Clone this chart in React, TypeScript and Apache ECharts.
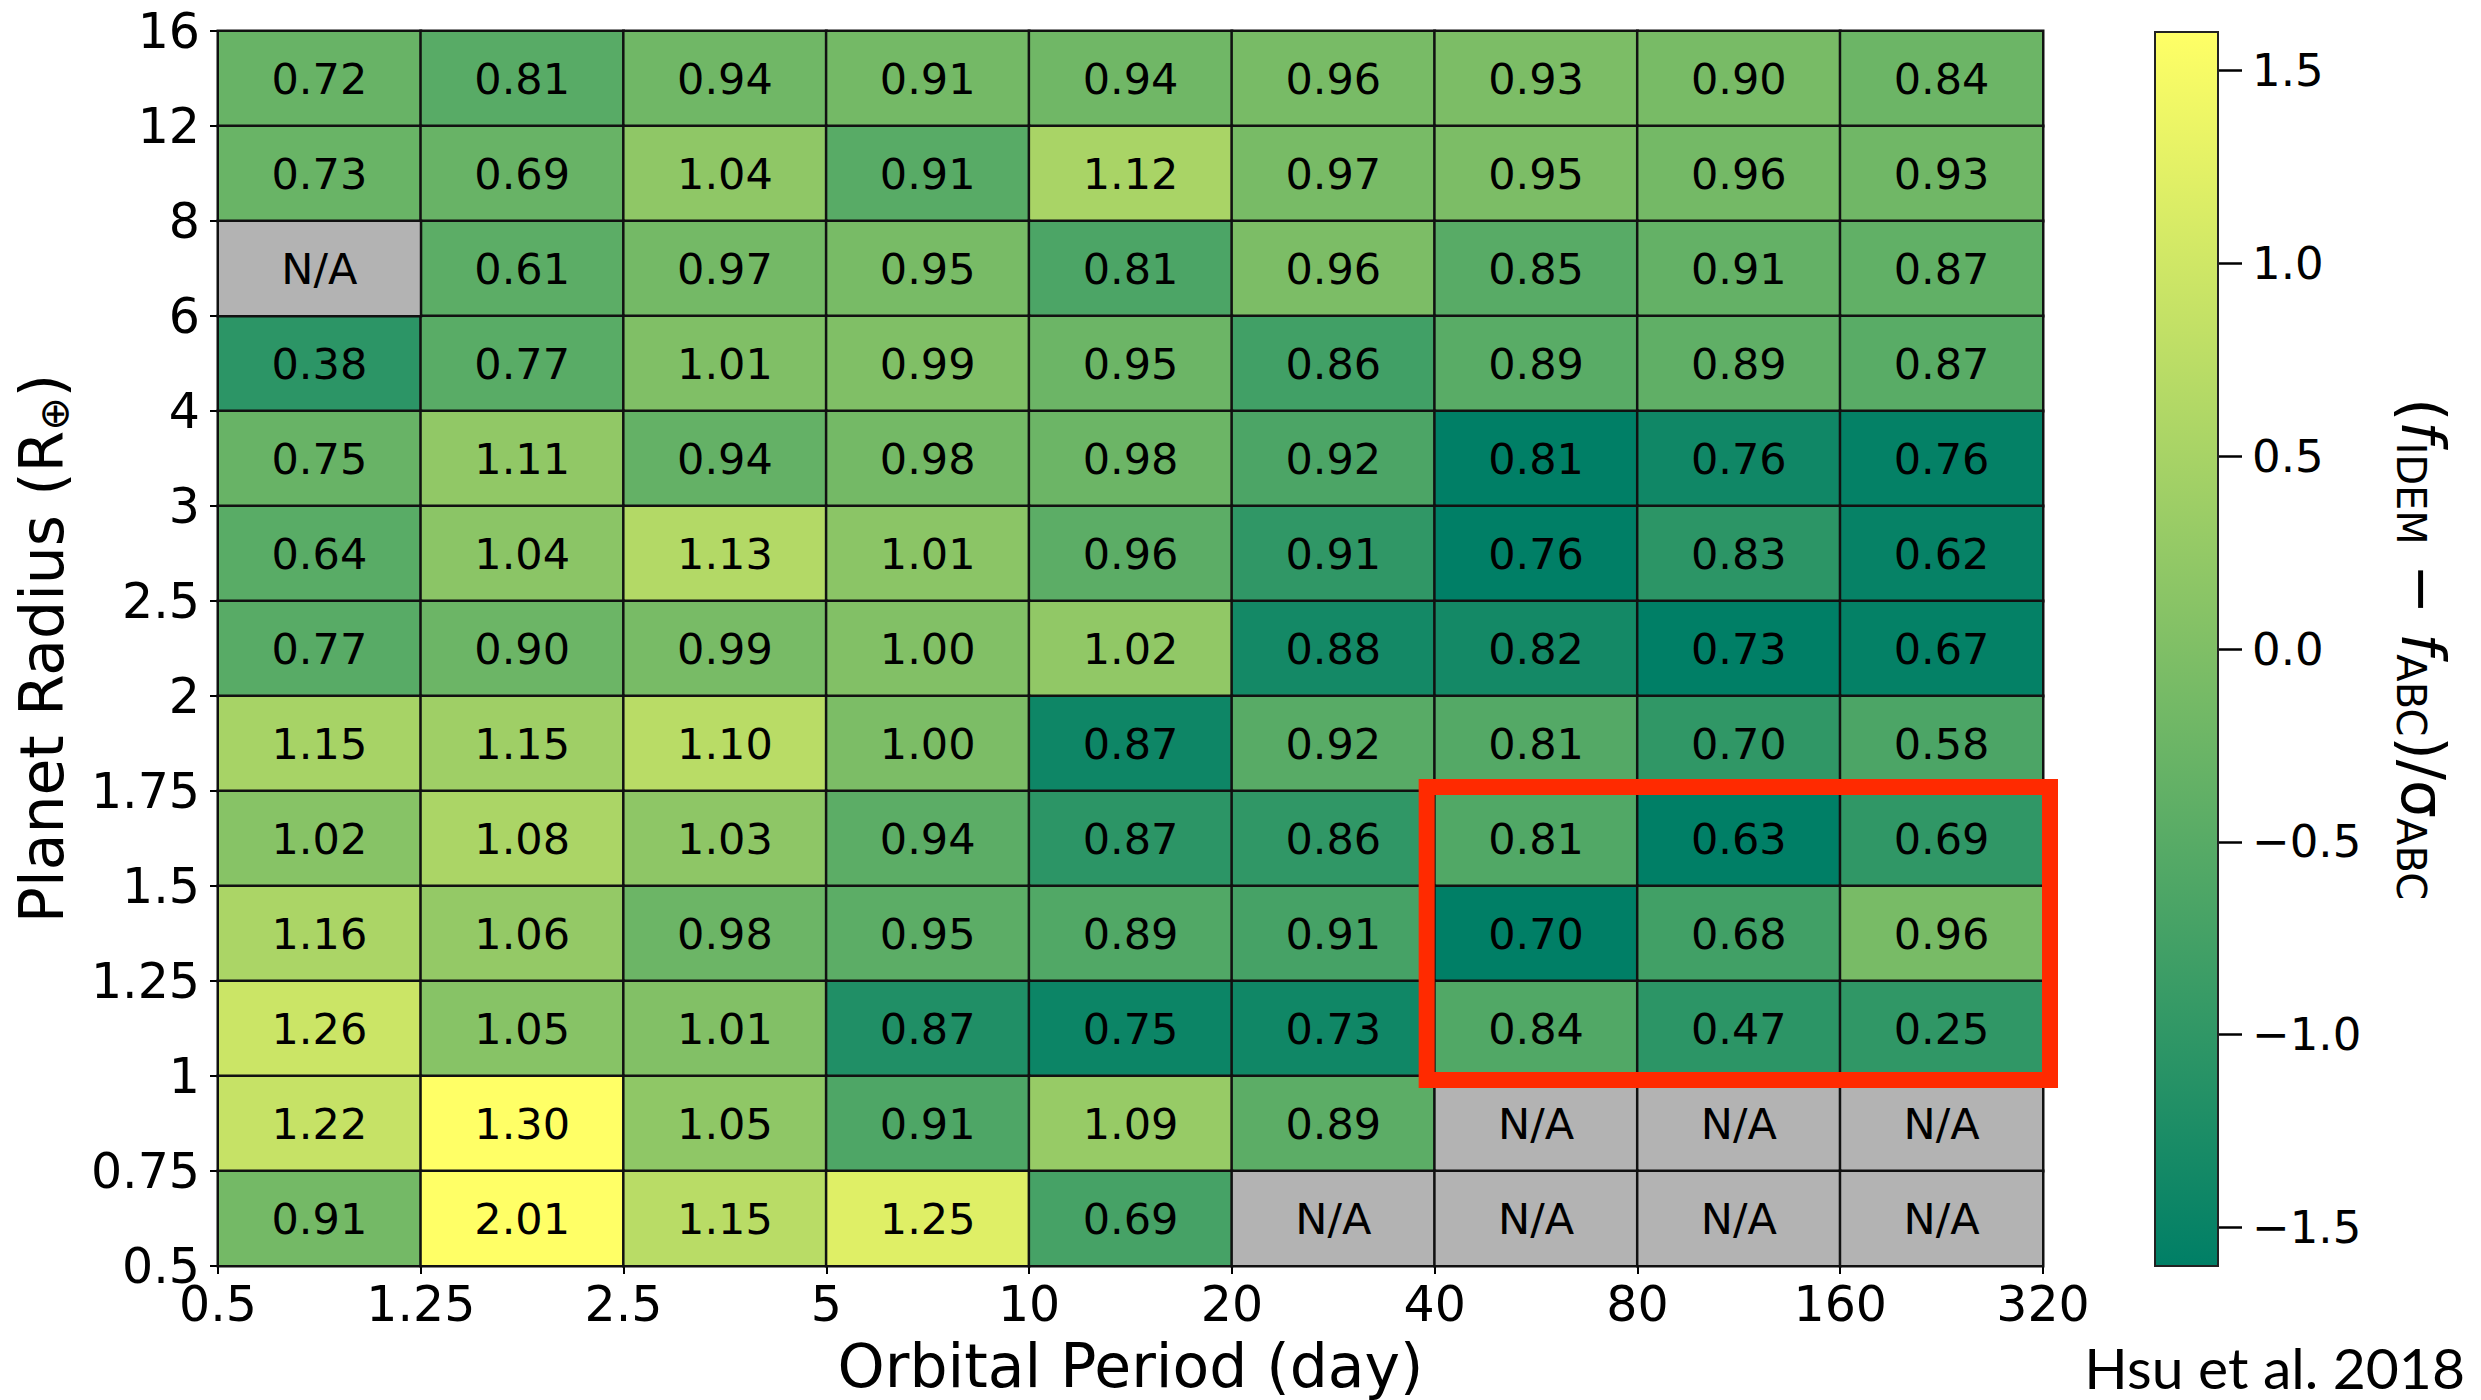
import { useEffect, useRef } from 'react';
import * as echarts from 'echarts';

// Bin edges (tick labels)
const periodTicks = ['0.5', '1.25', '2.5', '5', '10', '20', '40', '80', '160', '320'];
const radiusTicks = ['0.5', '0.75', '1', '1.25', '1.5', '1.75', '2', '2.5', '3', '4', '6', '8', '12', '16']; // bottom -> top

// Displayed ratio in each cell, rows listed top (16-12 R_earth) to bottom (0.75-0.5); null = N/A
const ratioRows: (number | null)[][] = [
  [0.72, 0.81, 0.94, 0.91, 0.94, 0.96, 0.93, 0.90, 0.84],
  [0.73, 0.69, 1.04, 0.91, 1.12, 0.97, 0.95, 0.96, 0.93],
  [null, 0.61, 0.97, 0.95, 0.81, 0.96, 0.85, 0.91, 0.87],
  [0.38, 0.77, 1.01, 0.99, 0.95, 0.86, 0.89, 0.89, 0.87],
  [0.75, 1.11, 0.94, 0.98, 0.98, 0.92, 0.81, 0.76, 0.76],
  [0.64, 1.04, 1.13, 1.01, 0.96, 0.91, 0.76, 0.83, 0.62],
  [0.77, 0.90, 0.99, 1.00, 1.02, 0.88, 0.82, 0.73, 0.67],
  [1.15, 1.15, 1.10, 1.00, 0.87, 0.92, 0.81, 0.70, 0.58],
  [1.02, 1.08, 1.03, 0.94, 0.87, 0.86, 0.81, 0.63, 0.69],
  [1.16, 1.06, 0.98, 0.95, 0.89, 0.91, 0.70, 0.68, 0.96],
  [1.26, 1.05, 1.01, 0.87, 0.75, 0.73, 0.84, 0.47, 0.25],
  [1.22, 1.30, 1.05, 0.91, 1.09, 0.89, null, null, null],
  [0.91, 2.01, 1.15, 1.25, 0.69, null, null, null, null],
];

// Colour-mapped quantity (f_IDEM - f_ABC)/sigma_ABC
const sigmaRows: (number | null)[][] = [
  [-0.30, -0.50, -0.20, -0.15, -0.20, -0.10, -0.05, -0.10, -0.25],
  [-0.28, -0.30, 0.20, -0.50, 0.52, -0.10, -0.05, -0.15, -0.20],
  [null, -0.45, -0.15, -0.10, -0.65, -0.05, -0.50, -0.35, -0.38],
  [-1.05, -0.48, 0.00, 0.00, -0.25, -0.78, -0.48, -0.40, -0.48],
  [-0.30, 0.22, -0.35, -0.15, -0.25, -0.65, -1.60, -1.40, -1.55],
  [-0.48, 0.15, 0.64, 0.15, -0.45, -1.00, -1.60, -1.05, -1.52],
  [-0.50, -0.25, -0.10, 0.03, 0.22, -1.35, -1.35, -1.60, -1.55],
  [0.50, 0.40, 0.72, -0.05, -1.42, -0.50, -0.55, -1.00, -0.65],
  [0.10, 0.55, 0.18, -0.45, -1.05, -1.00, -0.58, -1.60, -1.00],
  [0.55, 0.26, -0.25, -0.45, -0.58, -0.72, -1.60, -0.78, -0.10],
  [0.95, 0.10, 0.03, -1.20, -1.45, -1.40, -0.58, -1.05, -1.00],
  [0.88, 1.60, 0.20, -0.62, 0.30, -0.45, null, null, null],
  [-0.15, 1.60, 0.72, 1.20, -0.72, null, null, null, null],
];

const colorbarTicks = [-1.5, -1.0, -0.5, 0.0, 0.5, 1.0, 1.5];
const colorRange = [-1.6, 1.6];
// highlighted block in bin units: [x0, y0, x1, y1] (40-320 day, 1-1.75 R_earth)
const highlightBox = [[6, 2, 9, 5]];

const FONT = 'DejaVu Sans';

export default function App() {
  const ref = useRef<HTMLDivElement>(null);

  useEffect(() => {
    document.body.style.margin = '0';
    const chart = echarts.init(ref.current!, null, { renderer: 'svg' });
    const nRows = ratioRows.length;
    const cells: any[] = [];
    const cellText: string[] = [];
    const naCells: any[] = [];
    ratioRows.forEach((row, r) => {
      const yi = nRows - 1 - r;
      row.forEach((v, c) => {
        if (v === null) {
          naCells.push([c, yi, 0]);
        } else {
          cells.push([c, yi, sigmaRows[r][c]]);
          cellText.push(v.toFixed(2));
        }
      });
    });

    const xCats = periodTicks.slice(0, -1).map((t, i) => t + '-' + periodTicks[i + 1]);
    const yCats = radiusTicks.slice(0, -1).map((t, i) => t + '-' + radiusTicks[i + 1]);

    const tickStyle = { color: '#000', width: 2 };
    const subRich = {
      m: { fontSize: 60, lineHeight: 64, fontFamily: FONT, color: '#000' },
      i: { fontSize: 60, lineHeight: 64, fontFamily: FONT, fontStyle: 'italic', color: '#000' },
      s: { fontSize: 40, lineHeight: 28, fontFamily: FONT, verticalAlign: 'bottom', color: '#000' },
    };

    const option: any = {
      animation: false,
      backgroundColor: '#ffffff',
      textStyle: { fontFamily: FONT },
      grid: [
        { left: 218, top: 31, width: 1825, height: 1235, outerBoundsMode: 'none' },
        { left: 2155, top: 32, width: 63, height: 1234, outerBoundsMode: 'none' },
      ],
      xAxis: [
        { type: 'category', gridIndex: 0, data: xCats, show: false },
        {
          type: 'value', gridIndex: 0, position: 'bottom', min: 0, max: periodTicks.length - 1, interval: 1,
          axisLine: { show: true, onZero: false, lineStyle: { color: '#000', width: 2 } },
          axisTick: { show: true, length: 8, lineStyle: tickStyle },
          axisLabel: {
            formatter: (v: number) => periodTicks[Math.round(v)],
            fontSize: 49, color: '#000', margin: 14, fontFamily: FONT,
          },
          splitLine: { show: false },
          name: 'Orbital Period (day)', nameLocation: 'middle', nameGap: 70,
          nameTextStyle: { fontSize: 60, lineHeight: 60, color: '#000', fontFamily: FONT },
        },
        { type: 'value', gridIndex: 1, min: 0, max: 1, show: false },
      ],
      yAxis: [
        { type: 'category', gridIndex: 0, data: yCats, show: false, position: 'left' },
        {
          type: 'value', gridIndex: 0, position: 'left', min: 0, max: radiusTicks.length - 1, interval: 1,
          axisLine: { show: true, onZero: false, lineStyle: { color: '#000', width: 2 } },
          axisTick: { show: true, length: 8, lineStyle: tickStyle },
          axisLabel: {
            formatter: (v: number) => radiusTicks[Math.round(v)],
            fontSize: 49, color: '#000', margin: 18, fontFamily: FONT,
          },
          splitLine: { show: false },
          name: '{m|Planet Radius (R}{s|⊕}{m|)}', nameLocation: 'middle', nameGap: 144,
          nameTextStyle: { rich: subRich },
        },
        {
          type: 'value', gridIndex: 1, position: 'right', min: colorRange[0], max: colorRange[1],
          axisLine: { show: true, onZero: false, lineStyle: { color: '#222', width: 2 } },
          axisTick: {
            show: true, inside: false, length: 24, customValues: colorbarTicks,
            lineStyle: { color: '#000', width: 2.5 },
          },
          axisLabel: {
            customValues: colorbarTicks, margin: 34, fontSize: 45, color: '#000', fontFamily: FONT,
            formatter: (v: number) => v.toFixed(1).replace('-', '\u2212'),
          },
          splitLine: { show: false },
        },
      ],
      visualMap: [
        {
          type: 'continuous', show: false, seriesIndex: 0, dimension: 2,
          min: colorRange[0], max: colorRange[1],
          inRange: { color: ['#007f66', '#ffff66'] },
        },
        {
          type: 'continuous', show: false, seriesIndex: 1, dimension: 2,
          min: 0, max: 1,
          inRange: { color: ['#b3b3b3', '#b3b3b3'] },
        },
      ],
      series: [
        {
          type: 'heatmap', xAxisIndex: 0, yAxisIndex: 0, data: cells,
          itemStyle: { borderColor: '#111', borderWidth: 2.5 },
          label: {
            show: true, color: '#000', fontSize: 43, fontFamily: FONT,
            formatter: (p: any) => cellText[p.dataIndex],
          },
          emphasis: { disabled: true },
        },
        {
          type: 'heatmap', xAxisIndex: 0, yAxisIndex: 0, data: naCells,
          itemStyle: { borderColor: '#111', borderWidth: 2.5 },
          label: { show: true, color: '#000', fontSize: 43, fontFamily: FONT, formatter: () => 'N/A' },
          emphasis: { disabled: true },
        },
        {
          type: 'custom', xAxisIndex: 1, yAxisIndex: 1, data: highlightBox, silent: true, z: 10,
          renderItem: (_p: any, api: any) => {
            const a = api.coord([api.value(0), api.value(3)]);
            const b = api.coord([api.value(2), api.value(1)]);
            return {
              type: 'rect',
              shape: { x: a[0] - 8, y: a[1] - 4, width: b[0] - a[0] + 15, height: b[1] - a[1] + 8 },
              style: { fill: 'none', stroke: '#ff2a00', lineWidth: 16 },
            };
          },
        },
        {
          type: 'custom', xAxisIndex: 2, yAxisIndex: 2, silent: true, z: 1,
          data: [[0, colorRange[0], 1, colorRange[1]]],
          renderItem: (_p: any, api: any) => {
            const a = api.coord([api.value(0), api.value(3)]);
            const b = api.coord([api.value(2), api.value(1)]);
            return {
              type: 'rect',
              shape: { x: a[0], y: a[1], width: b[0] - a[0], height: b[1] - a[1] },
              style: {
                fill: new echarts.graphic.LinearGradient(0, 1, 0, 0, [
                  { offset: 0, color: '#007f66' },
                  { offset: 1, color: '#ffff66' },
                ]),
                stroke: '#222', lineWidth: 2,
              },
            };
          },
        },
      ],
      graphic: [
        {
          type: 'text', x: 2423, y: 649, rotation: -Math.PI / 2,
          style: {
            text: '{m|(}{i|f}{s|IDEM}{m| \u2212 }{i|f}{s|ABC}{m|)/\u03c3}{s|ABC}',
            rich: subRich, align: 'center', verticalAlign: 'middle',
          },
        },
        {
          type: 'text', x: 2465, y: 1367,
          style: {
            text: 'Hsu et al. 2018', fontSize: 57, lineHeight: 52, fontFamily: 'Lato', fill: '#000',
            align: 'right', verticalAlign: 'middle',
          },
        },
      ],
    };
    chart.setOption(option);
    return () => chart.dispose();
  }, []);

  return <div ref={ref} style={{ width: 2481, height: 1400 }} />;
}
